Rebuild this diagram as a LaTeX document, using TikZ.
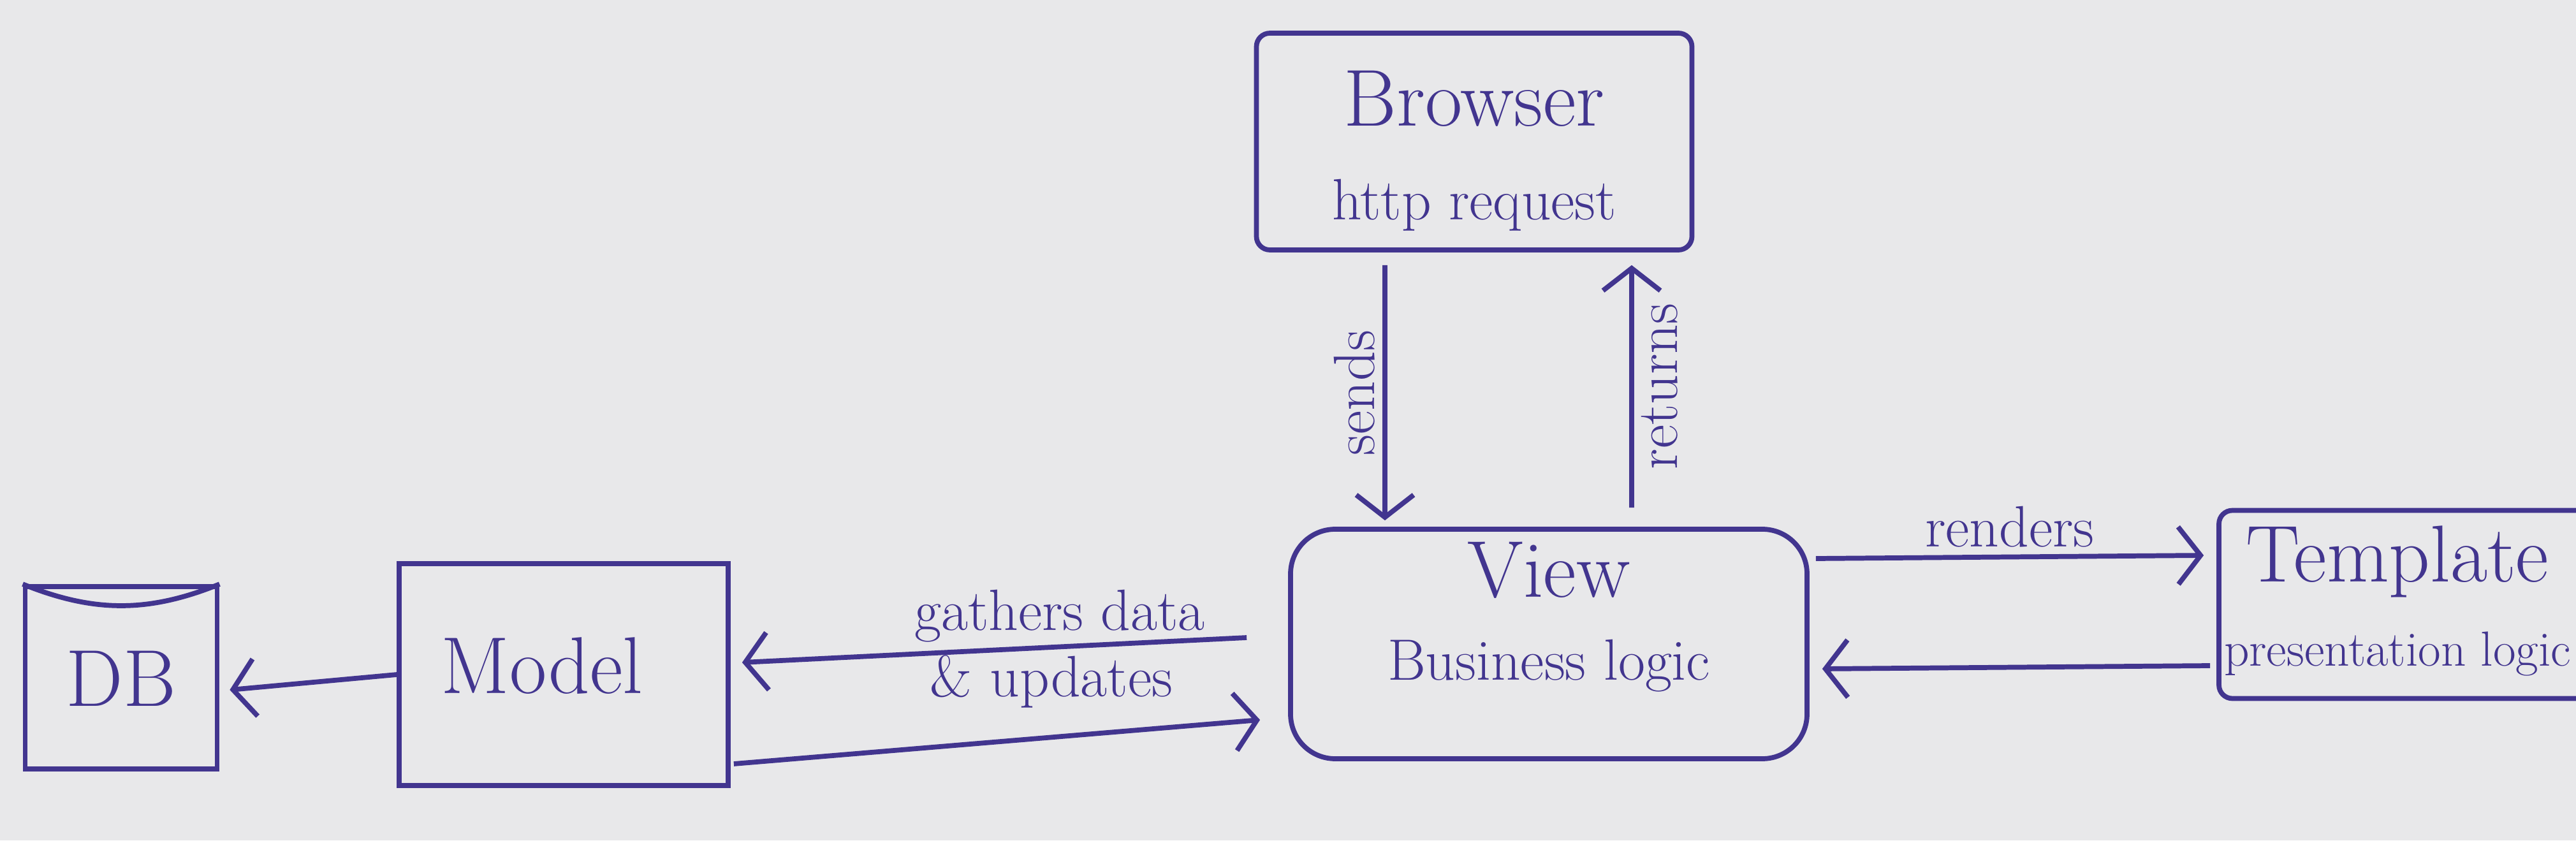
\documentclass[tikz,border=0pt]{standalone}
\usepackage{tikz}
\usetikzlibrary{arrows.meta,positioning,calc}
\definecolor{PenInk}{HTML}{42358F}
\definecolor{PaperGray}{HTML}{E8E8EA}
\tikzset{
  box/.style={rectangle, draw=PenInk, line width=2.2pt, rounded corners=6pt},
  flow/.style={draw=PenInk, line width=2.2pt,
               -{Straight Barb[length=0.35cm,width=0.9cm,line width=2.2pt]}},
  title/.style={font=\fontsize{36}{40}\selectfont, PenInk},
  note/.style={font=\fontsize{26}{30}\selectfont, PenInk},
}

\begin{document}
\begin{tikzpicture}
  \fill[PaperGray] (0,0) rectangle (40.4,13.18);
  \useasboundingbox (0,0) rectangle (40.4,13.18);

  % boxes
  \node[box, minimum width=6.83cm, minimum height=3.4cm] (browser) at (23.12,10.96) {};
  \node[box, rounded corners=0.7cm, minimum width=8.1cm, minimum height=3.6cm] (view) at (24.29,3.08) {};
  \node[box, minimum width=5.8cm, minimum height=2.95cm] (template) at (37.7,3.7) {};
  \node[box, rounded corners=0pt, minimum width=5.16cm, minimum height=3.48cm] (model) at (8.84,2.6) {};
  \node[box, rounded corners=0pt, minimum width=3.01cm, minimum height=2.86cm] (db) at (1.9,2.55) {};
  \draw[PenInk, line width=2.2pt] (db.north west) to[bend right=22] (db.north east);

  % texts
  \node[title] (browsertitle) at (23.12,11.63) {Browser};
  \node[note] (browsernote) at (23.12,9.96) {http request};
  \node[title] (viewtitle) at (24.29,4.24) {View};
  \node[note] (viewnote) at (24.29,2.74) {Business logic};
  \node[title] (templatetitle) at (37.6,4.37) {Template};
  \node[note, font=\fontsize{22}{26}\selectfont] (templatenote) at (37.6,2.92) {presentation logic};
  \node[title] (modeltitle) at (8.5,2.74) {Model};
  \node[title] (dbtitle) at (1.9,2.54) {DB};

  % connectors
  \draw[flow] ([xshift=-1.4cm,yshift=-2mm]browser.south) -- ([xshift=-2.57cm,yshift=1mm]view.north)
    node[midway, note, rotate=90, above] (sends) {sends};
  \draw[flow] ([xshift=1.3cm,yshift=3mm]view.north) -- ([xshift=2.47cm,yshift=-2mm]browser.south)
    node[midway, note, rotate=90, below] (returns) {returns};
  \draw[flow] ([xshift=1mm,yshift=1.34cm]view.east) -- ([xshift=-2mm,yshift=0.77cm]template.west)
    node[midway, note, above] (renders) {renders};
  \draw[flow] ([xshift=-1mm,yshift=-0.96cm]template.west) -- ([xshift=2mm,yshift=-0.39cm]view.east);
  \draw[flow] ([xshift=-0.65cm,yshift=1mm]view.west) -- ([xshift=1.8mm,yshift=1.9mm]model.east);
  \draw[flow] ([xshift=0.5mm,yshift=-1.4cm]model.east) -- ([xshift=-4.4mm,yshift=-1.19cm]view.west);
  \node[note] (gathers) at (16.62,3.52) {gathers data};
  \node[note] (updates) at (16.49,2.49) {\& updates};
  \draw[flow] (model.west) -- ([xshift=1.6mm,yshift=-1.9mm]db.east);
\end{tikzpicture}
\end{document}
